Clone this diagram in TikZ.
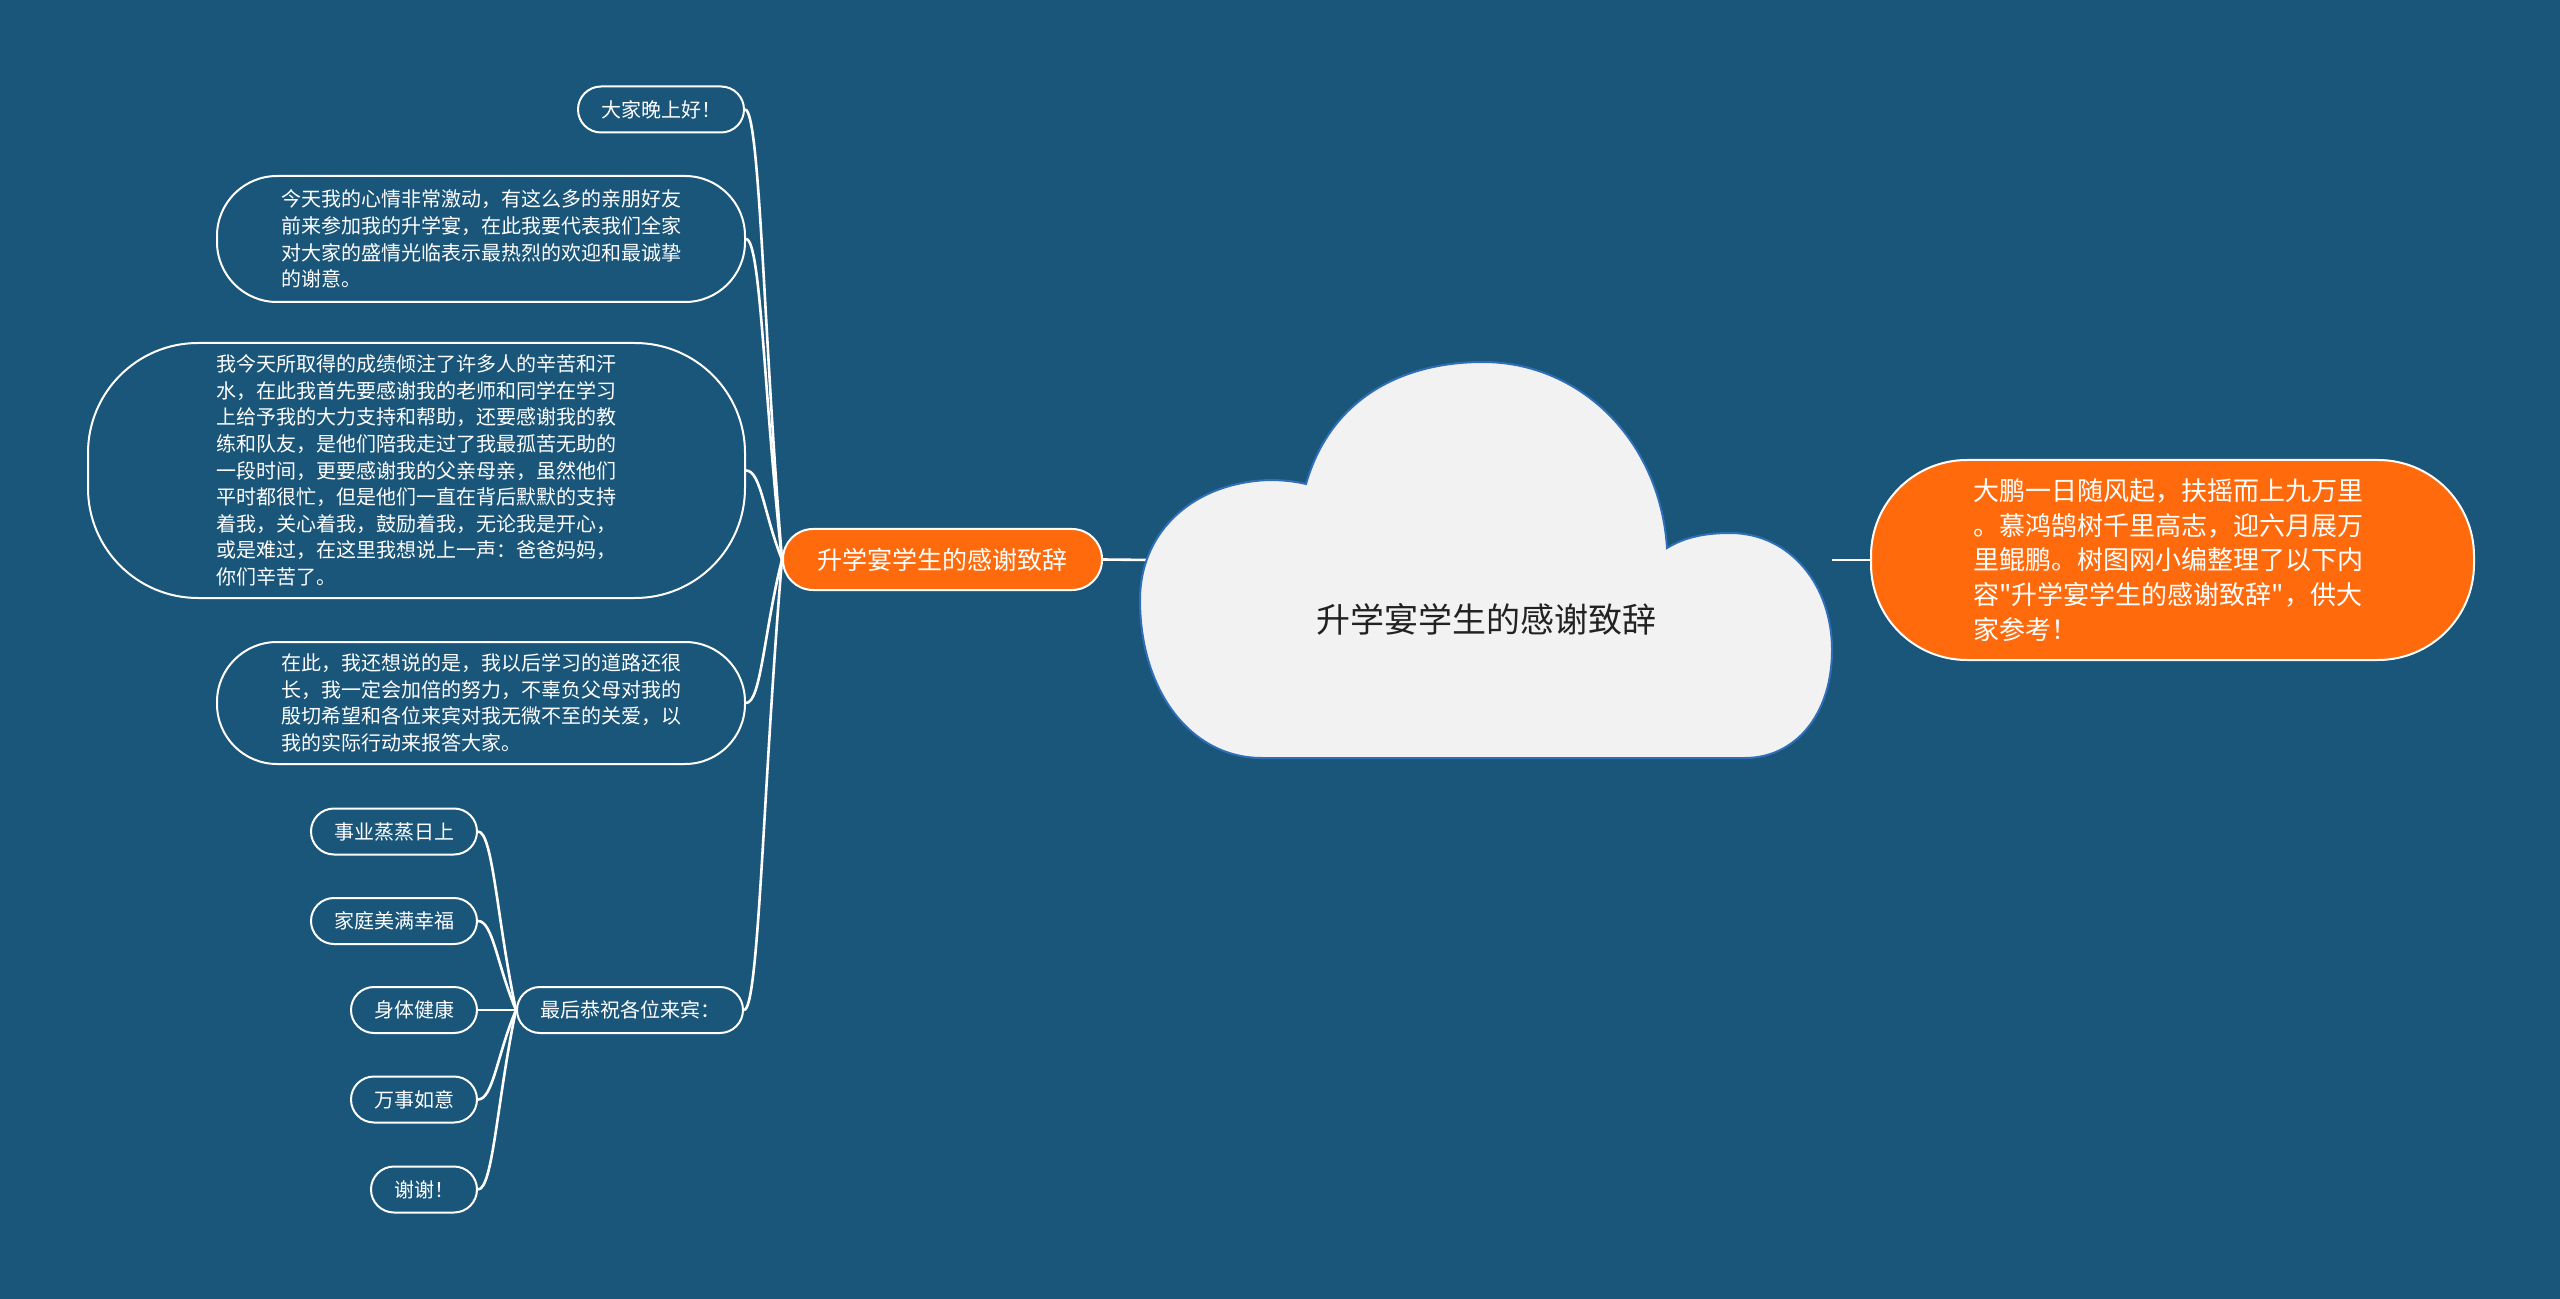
\documentclass[tikz,border=0pt]{standalone}
\usepackage{fontspec}
\setmainfont{Noto Sans CJK SC}[Ligatures=TeXOff]
\usetikzlibrary{calc}
\definecolor{bg}{HTML}{1A557A}
\definecolor{orng}{HTML}{FF6A0C}
\definecolor{cloudfill}{HTML}{F2F2F2}
\definecolor{cloudline}{HTML}{2E6FB7}
\definecolor{titletext}{HTML}{222222}
\newcommand\brconn[2]{\draw[conn] (#1.east) .. controls ($(#1.east)+(15,0)$) and ($(#1.east)!0.5!(#2.west)$) .. (#2.west);}
\begin{document}
\begin{tikzpicture}[x=0.5pt,y=-0.5pt,
  leaf/.style={draw=white, line width=1pt, rounded corners=11.5pt, text=white,
    font=\fontsize{10}{13.3}\selectfont, inner xsep=11.5pt, inner ysep=0pt,
    minimum height=23pt, anchor=east},
  para/.style={draw=white, line width=1pt, text=white,
    font=\fontsize{10}{13.3}\selectfont, align=left, inner sep=0pt},
  orangebox/.style={draw=white, line width=1pt, fill=orng, text=white},
  conn/.style={draw=white, line width=1.3pt},
  cloudshape/.style={fill=cloudfill, draw=cloudline, line width=1pt},
]
\fill[bg] (0,0) rectangle (2560,1299);

% first-level children (left)
\node[leaf] (n1) at (745,109.5) {大家晚上好！};
\node[para, minimum width=264pt, minimum height=63pt, rounded corners=30pt] (n2) at (481,239)
  {今天我的心情非常激动，有这么多的亲朋好友\\前来参加我的升学宴，在此我要代表我们全家\\对大家的盛情光临表示最热烈的欢迎和最诚挚\\的谢意。};
\node[para, minimum width=328.5pt, minimum height=127.5pt, rounded corners=55pt] (n3) at (416.5,470.5)
  {我今天所取得的成绩倾注了许多人的辛苦和汗\\水，在此我首先要感谢我的老师和同学在学习\\上给予我的大力支持和帮助，还要感谢我的教\\练和队友，是他们陪我走过了我最孤苦无助的\\一段时间，更要感谢我的父亲母亲，虽然他们\\平时都很忙，但是他们一直在背后默默的支持\\着我，关心着我，鼓励着我，无论我是开心，\\或是难过，在这里我想说上一声：爸爸妈妈，\\你们辛苦了。};
\node[para, minimum width=264pt, minimum height=61pt, rounded corners=30pt] (n4) at (481,703)
  {在此，我还想说的是，我以后学习的道路还很\\长，我一定会加倍的努力，不辜负父母对我的\\殷切希望和各位来宾对我无微不至的关爱，以\\我的实际行动来报答大家。};
\node[leaf] (wish) at (744,1010) {最后恭祝各位来宾：};

% second-level children
\node[leaf] (w1) at (478,831.5) {事业蒸蒸日上};
\node[leaf] (w2) at (478,921) {家庭美满幸福};
\node[leaf] (w3) at (478,1010) {身体健康};
\node[leaf] (w4) at (478,1099.5) {万事如意};
\node[leaf] (w5) at (478,1189.5) {谢谢！};

% main branch node
\node[orangebox, rounded corners=15pt, minimum width=159.5pt, minimum height=30.5pt,
  inner sep=0pt, font=\fontsize{12.5}{15}\selectfont] (main) at (942.5,559.5) {升学宴学生的感谢致辞};

% root (cloud) bounding node
\node[minimum width=346pt, minimum height=198pt, inner sep=0pt] (root) at (1486,560) {};

% right intro node
\node[orangebox, rounded corners=48pt, minimum width=301.5pt, minimum height=100pt,
  inner sep=0pt, text width=199pt, align=left, font=\fontsize{13}{17.4}\selectfont] (intro) at (2172.5,560)
  {大鹏一日随风起，扶摇而上九万里\\。慕鸿鹄树千里高志，迎六月展万\\里鲲鹏。树图网小编整理了以下内\\容"升学宴学生的感谢致辞"，供大\\家参考！};

% connectors
\brconn{n1}{main}
\brconn{n2}{main}
\brconn{n3}{main}
\brconn{n4}{main}
\brconn{wish}{main}
\brconn{w1}{wish}
\brconn{w2}{wish}
\brconn{w3}{wish}
\brconn{w4}{wish}
\brconn{w5}{wish}
\draw[conn] (main.east) -- ([xshift=5pt]root.west);
\draw[conn] (root.east) -- (intro.west);

% cloud
\draw[cloudshape] (1262,758)
  .. controls (1190,758) and (1140,690) .. (1140,600)
  .. controls (1140,530) and (1195,482) .. (1270,480)
  .. controls (1285,480) and (1298,482) .. (1306,484)
  .. controls (1330,400) and (1400,362) .. (1483,362)
  .. controls (1580,362) and (1660,440) .. (1667,548)
  .. controls (1685,537) and (1705,533) .. (1730,533)
  .. controls (1790,533) and (1832,585) .. (1832,650)
  .. controls (1832,715) and (1795,758) .. (1745,758)
  -- cycle;
\node[text=titletext, font=\fontsize{17}{20}\selectfont, inner sep=0pt] (title) at (1486,619) {升学宴学生的感谢致辞};
\end{tikzpicture}
\end{document}
